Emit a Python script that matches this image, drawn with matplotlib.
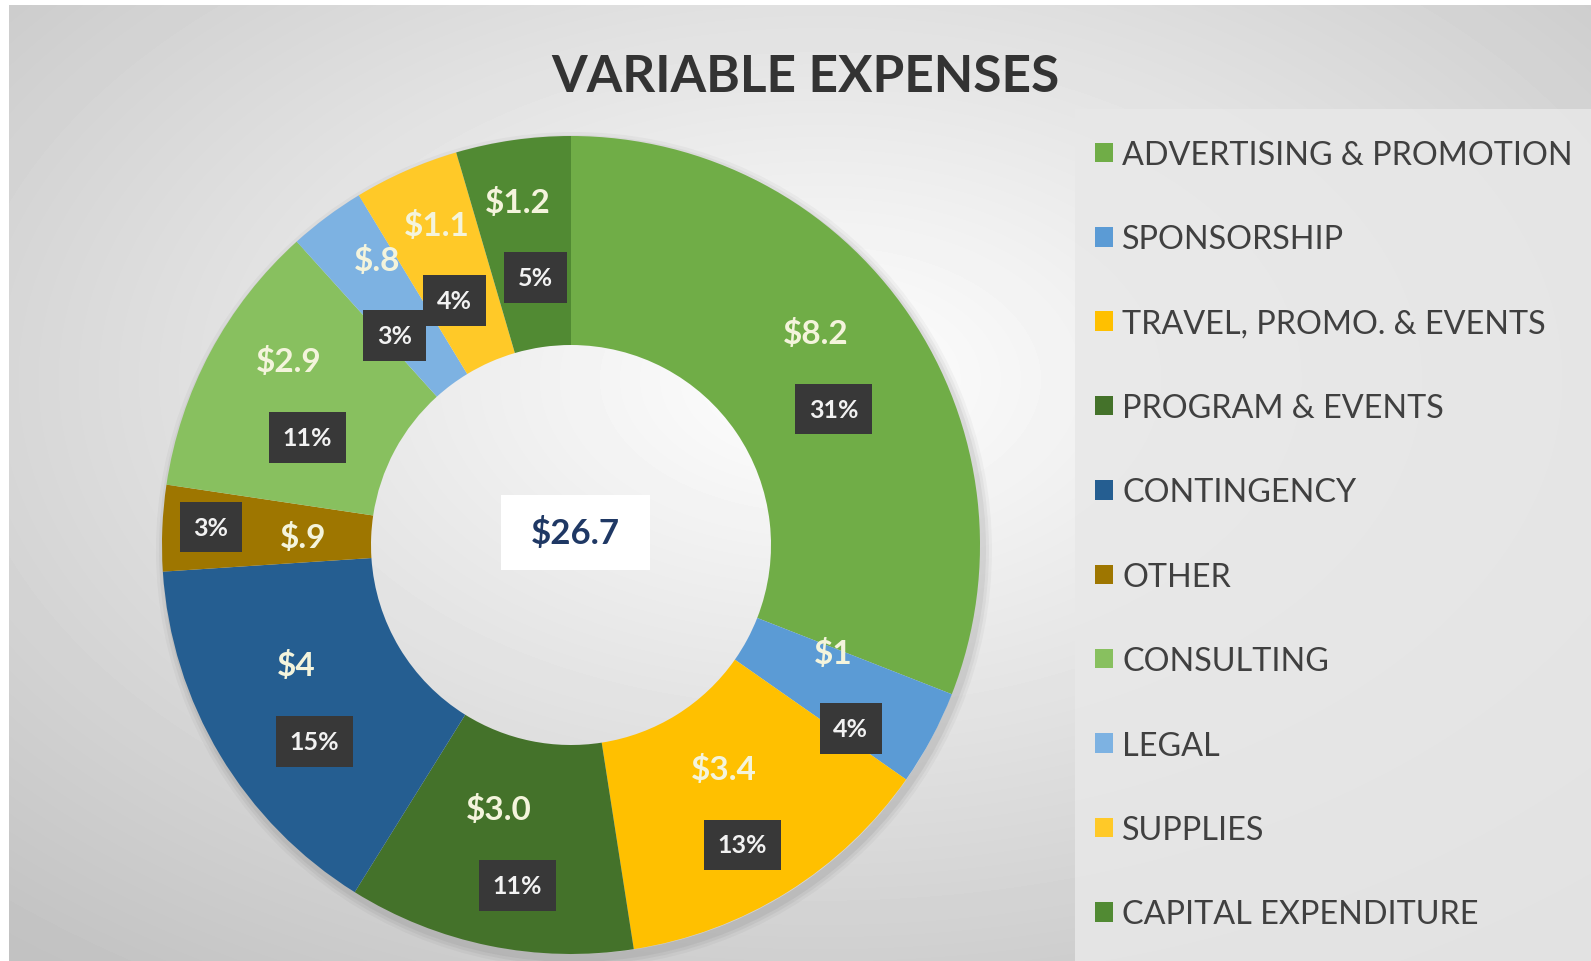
import numpy as np
import matplotlib
matplotlib.use('Agg')
import matplotlib.pyplot as plt
from matplotlib.patches import Rectangle, Wedge

# данные диаграммы
categories = ['ADVERTISING & PROMOTION', 'SPONSORSHIP', 'TRAVEL, PROMO. & EVENTS',
              'PROGRAM & EVENTS', 'CONTINGENCY', 'OTHER', 'CONSULTING', 'LEGAL',
              'SUPPLIES', 'CAPITAL EXPENDITURE']
values = [8.2, 1.0, 3.4, 3.0, 4.0, 0.9, 2.9, 0.8, 1.1, 1.2]
value_labels = ['$8.2', '$1', '$3.4', '$3.0', '$4', '$.9', '$2.9', '$.8', '$1.1', '$1.2']
pct_labels = ['31%', '4%', '13%', '11%', '15%', '3%', '11%', '3%', '4%', '5%']
total_label = '$26.7'
title = 'VARIABLE EXPENSES'

colors = ['#70AD47', '#5B9BD5', '#FFC000', '#44722A', '#255E91',
          '#9E7600', '#88C05F', '#7DB2E2', '#FFC928', '#518A33']

W, H = 1591, 962
cx, cy = 571, H - 546      # центр кольца (пиксели)
R, ring = 409, 209

fig = plt.figure(figsize=(W / 100, H / 100), dpi=100)
ax = fig.add_axes([0, 0, 1, 1])

# фон: радиальный градиент (строка 0 = верх картинки)
yy, xx = np.mgrid[0:H, 0:W]
d = np.hypot((xx - 820) / W, (yy - 380) / H)
bg = np.clip(1.0 - 0.31 * d, 0.76, 1.0)
bg[:6, :] = 1.0
bg[:, :9] = 1.0
ax.imshow(bg, cmap='gray', vmin=0, vmax=1, extent=(0, W, 0, H), origin='upper', zorder=0)

# панель легенды
ax.add_patch(Rectangle((1075, 0), W - 1075, H - 110, facecolor='#e8e8e8',
                       edgecolor='none', alpha=0.85, zorder=1))

# мягкая тень кольца
for k, a in enumerate([0.05, 0.04, 0.03]):
    ax.add_patch(Wedge((cx + 3, cy - 5), R + 3 + 3 * k, 0, 360, width=8 + 3 * k,
                       facecolor='#000000', alpha=a, edgecolor='none', zorder=1.5))

wedges, _ = ax.pie(values, colors=colors, startangle=90, counterclock=False,
                   radius=R, center=(cx, cy), frame=True,
                   wedgeprops=dict(width=ring, linewidth=0))
for w in wedges:
    w.set_zorder(2)
ax.set_xlim(0, W)
ax.set_ylim(0, H)
ax.axis('off')

lab_font = ['Lato', 'DejaVu Sans']
for w, vl, pl in zip(wedges, value_labels, pct_labels):
    ang = np.deg2rad((w.theta1 + w.theta2) / 2)
    r = R - ring / 2 + 4
    x, y = cx + r * np.cos(ang), cy + r * np.sin(ang)
    if vl == '$.9':
        vx, vy, px, py = x + 40, y - 5, x - 52, y + 5
    else:
        vx, vy, px, py = x - 10, y + 38, x + 8, y - 38
    ax.text(vx, vy, vl, ha='center', va='center', fontsize=24, fontweight='bold',
            color='#f4f4dc', family=lab_font, zorder=4)
    ax.text(px, py, pl, ha='center', va='center', fontsize=18, fontweight='bold',
            color='#f2f2f2', family=lab_font, zorder=4,
            bbox=dict(boxstyle='square,pad=0.55', facecolor='#383838', edgecolor='none'))

# итог в центре
ax.add_patch(Rectangle((501, H - 571), 149, 75, facecolor='white', edgecolor='none', zorder=3))
ax.text(575, H - 533, total_label, ha='center', va='center', fontsize=25,
        fontweight='bold', color='#1F3864', family=lab_font, zorder=4)

ax.text(805, H - 77, title, ha='center', va='center', fontsize=37, fontweight='bold',
        color='#333333', family=lab_font, zorder=4)

leg = ax.legend(wedges, categories, loc='upper left', bbox_to_anchor=(1082 / W, (H - 128) / H),
                frameon=False, labelspacing=1.68, handlelength=0.55,
                handleheight=0.55, handletextpad=0.3, borderaxespad=0,
                prop={'family': lab_font, 'size': 23.3})
for t in leg.get_texts():
    t.set_color('#404040')

fig.savefig('out.png', dpi=100)
